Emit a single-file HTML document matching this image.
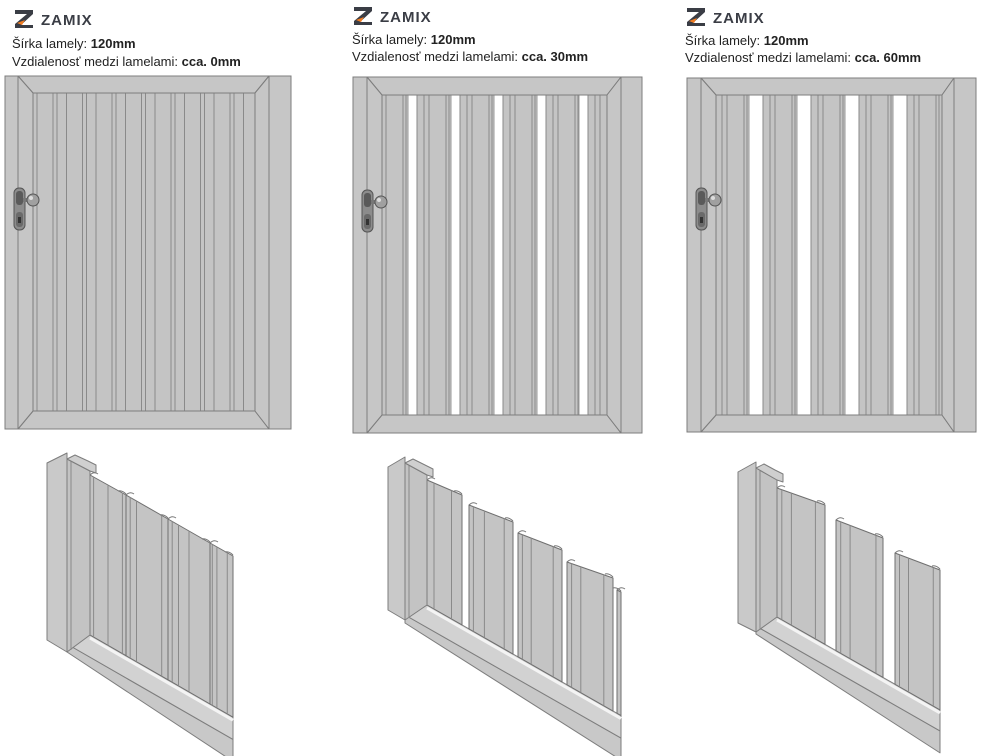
<!DOCTYPE html>
<html><head><meta charset="utf-8"><style>
html,body{margin:0;padding:0;background:#fff;width:988px;height:756px;overflow:hidden}
svg{position:absolute;left:0;top:0}
.t{font-family:"Liberation Sans",sans-serif;font-size:13px;fill:#222}
.b{font-weight:bold}
.logo{font-family:"Liberation Sans",sans-serif;font-size:15px;font-weight:bold;fill:#3a3d45;letter-spacing:1px}
</style></head><body>
<svg id="s" width="988" height="756" viewBox="0 0 988 756" xmlns="http://www.w3.org/2000/svg">
<g id="txt">
 <g transform="translate(15,10)"><path d="M0 0h18v4l-12 11h12v3H0v-4l12-10H0z" fill="#3a3d45"/><path d="M2 13l8-3-3 5z" fill="#f07c22"/></g>
 <text class="logo" x="41" y="25">ZAMIX</text>
 <text class="t" x="12" y="48">Šírka lamely: <tspan class="b">120mm</tspan></text>
 <text class="t" x="12" y="66">Vzdialenosť medzi lamelami: <tspan class="b">cca. 0mm</tspan></text>
 <g transform="translate(354,7)"><path d="M0 0h18v4l-12 11h12v3H0v-4l12-10H0z" fill="#3a3d45"/><path d="M2 13l8-3-3 5z" fill="#f07c22"/></g>
 <text class="logo" x="380" y="22">ZAMIX</text>
 <text class="t" x="352" y="44">Šírka lamely: <tspan class="b">120mm</tspan></text>
 <text class="t" x="352" y="61">Vzdialenosť medzi lamelami: <tspan class="b">cca. 30mm</tspan></text>
 <g transform="translate(687,8)"><path d="M0 0h18v4l-12 11h12v3H0v-4l12-10H0z" fill="#3a3d45"/><path d="M2 13l8-3-3 5z" fill="#f07c22"/></g>
 <text class="logo" x="713" y="23">ZAMIX</text>
 <text class="t" x="685" y="45">Šírka lamely: <tspan class="b">120mm</tspan></text>
 <text class="t" x="685" y="62">Vzdialenosť medzi lamelami: <tspan class="b">cca. 60mm</tspan></text>
</g>
</svg>
<script>
var S=document.getElementById('s'),NS='http://www.w3.org/2000/svg';
function el(t,a){var e=document.createElementNS(NS,t);for(var k in a)e.setAttribute(k,a[k]);S.appendChild(e);return e;}
var F='#c6c6c6',ST='#7d7d7d';
function rect(x,y,w,h,f,s){el('rect',{x:x,y:y,width:w,height:h,fill:f||F,stroke:s||ST,'stroke-width':1});}
function line(x1,y1,x2,y2,c,w){el('line',{x1:x1,y1:y1,x2:x2,y2:y2,stroke:c||ST,'stroke-width':w||1});}
function poly(p,f,s){el('polygon',{points:p,fill:f||F,stroke:s||ST,'stroke-width':1,'stroke-linejoin':'round'});}
function gate(o){
 rect(o.x0,o.y0,o.x1-o.x0,o.y1-o.y0);
 rect(o.il,o.it,o.ir-o.il,o.ib-o.it,'#c4c4c4');
 o.gaps.forEach(function(g){rect(g[0],o.it,g[1]-g[0],o.ib-o.it,'#fff','#9a9a9a');});
 o.lines.forEach(function(x){line(x,o.it,x,o.ib,'#8a8a8a');});
 poly([o.sl,o.y0,o.sr,o.y0,o.ir,o.it,o.il,o.it].join(','));
 poly([o.sl,o.y1,o.sr,o.y1,o.ir,o.ib,o.il,o.ib].join(','));
 poly([o.sl,o.y0,o.il,o.it,o.il,o.ib,o.sl,o.y1].join(','));
 poly([o.sr,o.y0,o.ir,o.it,o.ir,o.ib,o.sr,o.y1].join(','));
 rect(o.x0,o.y0,o.sl-o.x0,o.y1-o.y0);
 rect(o.sr,o.y0,o.x1-o.sr,o.y1-o.y0);
 var hx=o.x0+9,hy=o.hy;
 el('rect',{x:hx,y:hy,width:11,height:42,rx:5,fill:'#8c8c8c',stroke:'#555'});
 el('rect',{x:hx+2,y:hy+3,width:7,height:14,rx:3,fill:'#5a5a5a'});
 el('rect',{x:hx+2,y:hy+24,width:7,height:15,rx:3,fill:'#6a6a6a'});
 el('rect',{x:hx+4,y:hy+29,width:3,height:6,fill:'#333'});
 el('rect',{x:hx+9,y:hy+10,width:6,height:4,fill:'#777'});
 el('circle',{cx:hx+19,cy:hy+12,r:6,fill:'#a0a0a0',stroke:'#555'});
 el('circle',{cx:hx+17,cy:hy+10,r:2,fill:'#ddd'});
}
function lamLines(starts){var a=[];starts.forEach(function(x){[0,7,12,29,32].forEach(function(d){a.push(x+d)})});return a;}
var g1=[];for(var i=0;i<8;i++){var b=33+i*29.5;g1.push(b+4,b+20,b+24);}
gate({x0:5,y0:76,x1:291,y1:429,sl:18,il:33,ir:255,sr:269,it:93,ib:411,gaps:[],lines:g1,hy:188});
gate({x0:353,y0:77,x1:642,y1:433,sl:367,il:382,ir:607,sr:621,it:95,ib:415,
 gaps:[[408,417],[451,460],[494,503],[537,546],[579,588]],
 lines:lamLines([374,417,460,503,546]).concat([588,595,600]),hy:190});
gate({x0:687,y0:78,x1:976,y1:432,sl:701,il:716,ir:942,sr:954,it:95,ib:415,
 gaps:[[749,763],[797,811],[845,859],[893,907]],
 lines:lamLines([715,763,811,859,907]),hy:188});

function iso(c){
 var s=c.slope;
 function ry(x){return c.ry0+s*(x-c.pr);}
 poly([c.pm,c.rb0,c.xe,c.rb0+s*(c.xe-c.pm),c.xe,c.rb0+s*(c.xe-c.pm)+22,c.pm,c.rb0+8].join(','),'#c8c8c8');
 poly([c.pr,ry(c.pr),c.xe,ry(c.xe),c.xe,c.rb0+s*(c.xe-c.pm),c.pm,c.rb0].join(','),'#d2d2d2');
 line(c.pr,ry(c.pr)+3,c.xe,ry(c.xe)+3,'#f4f4f4',3);
 c.panels.forEach(function(p){
  var x0=p[0],x1=p[1],t0=p[2],t1=p[3];
  poly([x0,t0,x1,t1,x1,ry(x1),x0,ry(x0)].join(','),'#c4c4c4','#6f6f6f');
  (p[4]||[]).forEach(function(f){var x=x0+(x1-x0)*f,t=t0+(t1-t0)*f;line(x,t,x,ry(x),'#8a8a8a');});
  el('path',{d:'M'+x0+' '+t0+' q4 -4 8 -1 M'+(x1-8)+' '+(t1-4)+' q4 -1 8 3',stroke:'#777',fill:'none'});
 });
 poly([c.pl,c.pt+10,c.pm,c.pt,c.pm,c.pbm,c.pl,c.pbl].join(','),'#c9c9c9');
 poly([c.pm,c.pt+6,c.pr,c.pt+18,c.pr,ry(c.pr),c.pm,c.pbm].join(','),'#c3c3c3');
 line(c.pm+4,c.pt+8,c.pm+4,c.pbm-2,'#8a8a8a');
 poly([c.pm,c.pt+6,c.pm+8,c.pt+2,c.pr-2,c.pt+8,c.pr+6,c.pt+12,c.pr+6,c.pt+20,c.pr,c.pt+18].join(','),'#cfcfcf');
}
iso({slope:0.575,pl:47,pm:67,pr:90,pt:453,pbl:640,pbm:652,ry0:635,rb0:644,xe:233,
 panels:[[90,126,475,495,[0.1,0.5,0.9]],[126,168,495,519,[0.1,0.25,0.85]],[168,210,519,543,[0.1,0.25,0.5]],[210,233,543,556,[0.1,0.3,0.75]]]});
iso({slope:0.57,pl:388,pm:405,pr:427,pt:457,pbl:610,pbm:620,ry0:605,rb0:615,xe:621,
 panels:[[427,462,480,495,[0.2,0.7]],[469,513,505,522,[0.1,0.35,0.8]],[518,562,533,550,[0.1,0.3,0.8]],[567,613,562,578,[0.1,0.3,0.8]],[617,621,590,592,[]]]});
iso({slope:0.57,pl:738,pm:756,pr:777,pt:462,pbl:623,pbm:632,ry0:617,rb0:626,xe:940,
 panels:[[777,825,488,505,[0.1,0.3,0.8]],[836,883,520,538,[0.1,0.3,0.85]],[895,940,553,570,[0.1,0.3,0.85]]]});
S.appendChild(document.getElementById('txt'));
</script>
</body></html>
